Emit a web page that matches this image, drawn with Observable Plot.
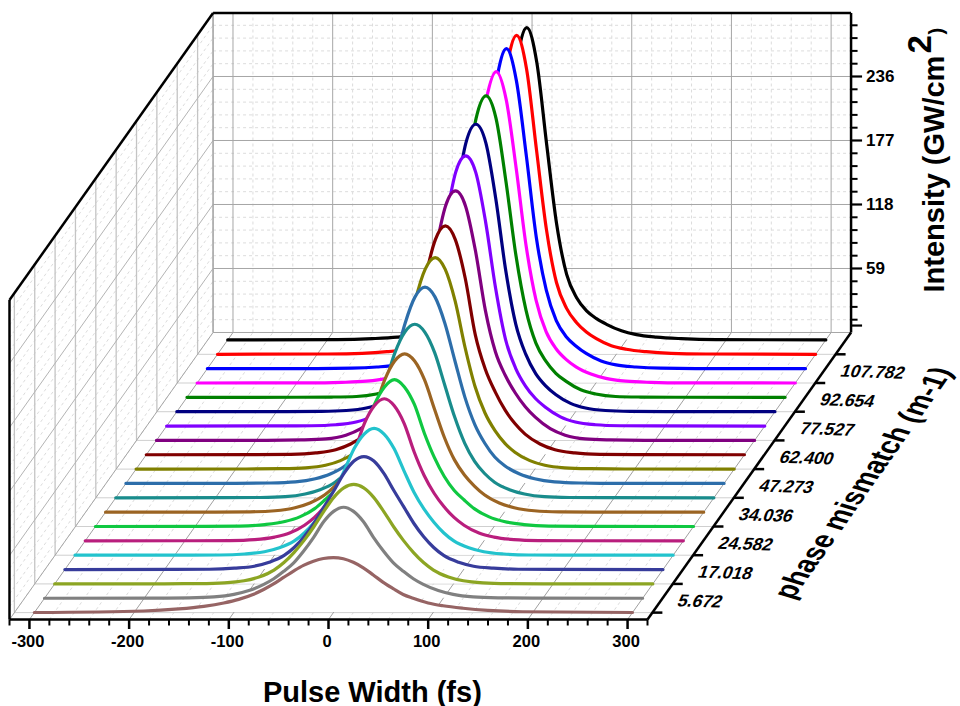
<!DOCTYPE html>
<html><head><meta charset="utf-8">
<style>html,body{margin:0;padding:0;background:#fff}svg{display:block}</style>
<script src="https://cdn.jsdelivr.net/npm/d3@7"></script>
<script src="https://cdn.jsdelivr.net/npm/@observablehq/plot@0.6"></script>
</head><body><div id="chart"></div>
<script>
const pulseFs=[-300,-190,-155,-130,-110,-95,-80,-70,-60,-50,-40,-30,-20,-10,0,10,20,30,40,50,60,70,80,95,110,130,155,190,300];
// intensity (GW/cm2) read per series, front to back
const s00=[0.1,1.5,3.4,5.8,8.9,12.2,17,21.3,26.4,32.4,38.3,43.6,47.4,49.9,50.7,49.7,46.4,41.3,34.7,27.9,22.1,16.7,13.2,8.9,6.3,4,2,0.8,0.1];
const s01=[0,0.1,0.4,1.3,3.6,7.1,12.8,18,24.8,32.7,43.6,56.2,70.5,80.1,83.9,80.1,70.5,56.2,43.6,32.7,24.8,18,12.8,7.1,3.6,1.3,0.4,0.1,0];
const s02=[0,0.1,0.3,1,2.9,6.4,12.8,19.7,28.9,39.9,52.7,66.9,79.8,88.5,91.7,88.5,79.8,66.9,52.7,39.9,28.9,19.7,12.8,6.4,2.9,1,0.3,0.1,0];
const s03=[0,0.1,0.3,1.3,3.1,6.7,13,20.3,30.2,42.7,57.8,72.9,88.6,100,104.2,100,88.6,72.9,57.8,42.7,30.2,20.3,13,6.7,3.1,1.3,0.3,0.1,0];
const s04=[0,0.1,0.2,1.1,3.2,6.8,13.2,20.5,30.4,42.7,58.1,77.8,98.3,111.7,117,111.7,98.3,77.8,58.1,42.7,30.4,20.5,13.2,6.8,3.2,1.1,0.2,0.1,0];
const s05=[0,0.1,0.3,1.2,3.5,7.2,14.4,21.6,31.4,43.9,60.3,81.9,108.1,124.5,131,124.5,108.1,81.9,60.3,43.9,31.4,21.6,14.4,7.2,3.5,1.2,0.3,0.1,0];
const s06=[0,0.1,0.4,1.8,4.6,8.9,16.5,24.4,33.2,46.1,63.7,86,112.5,128.7,135.5,128.7,112.5,86,63.7,46.1,33.2,24.4,16.5,8.9,4.6,1.8,0.4,0.1,0];
const s07=[0,0.1,0.3,1.3,4.1,8.5,16.1,24.1,34.3,48.2,68.6,94.9,121.9,139.4,146,139.4,121.9,94.9,68.6,48.2,34.3,24.1,16.1,8.5,4.1,1.3,0.3,0.1,0];
const s08=[0,0.1,0.3,1,3.5,7.5,14.4,22.4,33.6,50.4,74.4,104,133.6,152.8,160,152.8,133.6,104,74.4,50.4,33.6,22.4,14.4,7.5,3.5,1,0.3,0.1,0];
const s09=[0,0.1,0.4,1.4,4.3,8.7,16.3,24.4,37.1,54.3,79.6,113.1,147.5,172,181,172,147.5,113.1,79.6,54.3,37.1,24.4,16.3,8.7,4.3,1.4,0.4,0.1,0];
const s10=[0,0.1,0.4,1.2,3.5,7.8,15.6,23.8,35.5,51.7,76.1,112.1,155,184.3,195,184.3,155,112.1,76.1,51.7,35.5,23.8,15.6,7.8,3.5,1.2,0.4,0.1,0];
const s11=[0,0.1,0.4,1.7,4.6,9.9,19,28.5,41.1,58,79.1,110.8,162.5,198.3,211,198.3,162.5,110.8,79.1,58,41.1,28.5,19,9.9,4.6,1.7,0.4,0.1,0];
const s12=[0,0.1,0.5,1.4,4.8,10.8,21.4,31,43.7,59.8,81.7,119.6,174.8,216.2,230,216.2,174.8,119.6,81.7,59.8,43.7,31,21.4,10.8,4.8,1.4,0.5,0.1,0];
const s13=[0,0.1,0.3,1.2,3.7,8.5,17.4,25.4,36.9,53.5,79.7,127,188,234.1,249,234.1,188,127,79.7,53.5,36.9,25.4,17.4,8.5,3.7,1.2,0.3,0.1,0];
const s14=[0,0.1,0.3,1.1,3.4,7.7,15.9,23.9,35.2,53,80.8,129.9,196.1,247.8,265,247.8,196.1,129.9,80.8,53,35.2,23.9,15.9,7.7,3.4,1.1,0.3,0.1,0];
const s15=[0,0.1,0.3,0.8,3.1,7,15,22.2,33.4,50,80.6,130.7,198.8,257.2,278,257.2,198.8,130.7,80.6,50,33.4,22.2,15,7,3.1,0.8,0.3,0.1,0];
const s16=[0,0.1,0.6,1.7,4.3,8.3,14.9,21.8,31.6,47.4,76.1,126.3,198,261.2,287,261.2,198,126.3,76.1,47.4,31.6,21.8,14.9,8.3,4.3,1.7,0.6,0.1,0];
const s17=[0,0.1,0.4,1.5,3.5,7.1,14,20.7,29.5,44.3,72.3,121,196.2,265.5,295,265.5,196.2,121,72.3,44.3,29.5,20.7,14,7.1,3.5,1.5,0.4,0.1,0];
const s18=[0,0.3,0.9,2.4,4.7,7.9,14.4,20.6,29.4,42.6,66.2,114.7,188.2,263.1,294,263.1,188.2,114.7,66.2,42.6,29.4,20.6,14.4,7.9,4.7,2.4,0.9,0.3,0];
const s19=[0,0.3,1.2,2.6,4.9,8.4,14.4,19.6,26.8,38.9,60.5,106.6,180,256.3,288,256.3,180,106.6,60.5,38.9,26.8,19.6,14.4,8.4,4.9,2.6,1.2,0.3,0];
const seriesValues=[s00,s01,s02,s03,s04,s05,s06,s07,s08,s09,s10,s11,s12,s13,s14,s15,s16,s17,s18,s19];
const seriesColors=["#966464","#808080","#8ca523","#373c9b","#23c3cd","#b91e7d","#0fc841","#9b6423","#198c8c","#2d6eaa","#808000","#800000","#800080","#8000ff","#000080","#008000","#ff00ff","#0000ff","#ff0000","#000000"];
const xMajor=[-300,-200,-100,0,100,200,300];
const xMinor=[-320,-280,-260,-240,-220,-180,-160,-140,-120,-80,-60,-40,-20,20,40,60,80,120,140,160,180,220,240,260,280,320];
const xLabels=["-300","-200","-100","0","100","200","300"];
const zMajor=[59,118,177,236];
const zMinor=[11.8,23.6,35.4,47.2,70.8,82.6,94.4,106.2,129.8,141.6,153.4,165.2,188.8,200.6,212.4,224.2,247.8,259.6,271.4,283.2];
const zLow=6.4, zTop=294.5;
const depthTickSeries=[0,2,4,6,8,10,12,14,16,18];
const depthLabels=["5.672","17.018","24.582","34.036","47.273","62.400","77.527","92.654","107.782"];

// oblique projection of (pulse, series depth, intensity) on the library's x and y scales
const DX=204.2, DZ=264.6, T0=0.024, TS=0.05;
const tOf=i=>T0+TS*i;
const PX=(x,t)=>x+DX*t, PY=(z,t)=>z+DZ*t;
const seg=(x1,t1,z1,x2,t2,z2)=>({a:PX(x1,t1),b:PY(z1,t1),c:PX(x2,t2),d:PY(z2,t2)});
const linkOf=(rows,o)=>Plot.link(rows,{x1:"a",y1:"b",x2:"c",y2:"d",...o});
const xpu=1/0.997, zpu=1/1.0847; // one pixel in data units

const gMaj="#a6a6a6", gMin="#dcdcdc", dash="3,3";
const marks=[];
// back wall
marks.push(linkOf(xMinor.map(x=>seg(x,1,0,x,1,zTop)),{stroke:gMin,strokeDasharray:dash}));
marks.push(linkOf(zMinor.map(z=>seg(-320,1,z,320,1,z)),{stroke:gMin,strokeDasharray:dash}));
marks.push(linkOf(xMajor.map(x=>seg(x,1,0,x,1,zTop)),{stroke:gMaj}));
marks.push(linkOf(zMajor.map(z=>seg(-320,1,z,320,1,z)),{stroke:gMaj}));
// side wall
marks.push(linkOf(zMinor.map(z=>seg(-320,0,z,-320,1,z)),{stroke:gMin,strokeDasharray:dash}));
marks.push(linkOf(depthTickSeries.map(i=>seg(-320,tOf(i),0,-320,tOf(i),zTop)),{stroke:"#c4c4c4",strokeWidth:1.3}));
marks.push(linkOf(zMajor.map(z=>seg(-320,0,z,-320,1,z)),{stroke:"#b4b4b4"}));
marks.push(linkOf([seg(-320,1,0,-320,1,zTop)],{stroke:gMaj,strokeWidth:1.6}));
// floor
marks.push(linkOf(xMinor.map(x=>seg(x,0,0,x,1,0)),{stroke:gMin,strokeDasharray:dash}));
marks.push(linkOf(depthTickSeries.map(i=>seg(-320,tOf(i),0,320,tOf(i),0)),{stroke:"#cfcfcf"}));
marks.push(linkOf(xMajor.map(x=>seg(x,0,0,x,1,0)),{stroke:"#a0a0a0"}));
marks.push(linkOf([seg(-320,0,0,-320,1,0),seg(-320,1,0,320,1,0)],{stroke:gMaj}));

// series, back to front
for(let i=seriesValues.length-1;i>=0;i--){
  const t=tOf(i);
  const rows=pulseFs.map((x,j)=>({x:PX(x,t),y0:PY(0,t),y:PY(seriesValues[i][j],t)}));
  marks.push(Plot.areaY(rows,{x:"x",y1:"y0",y2:"y",fill:"#fff",curve:"monotone-x"}));
  marks.push(Plot.line(rows,{x:"x",y:"y",stroke:seriesColors[i],strokeWidth:3.2,curve:"monotone-x"}));
}

// frame and axes
marks.push(linkOf([
  seg(-320,0,0,320,0,0),seg(320,0,0,320,1,0),seg(320,1,0,320,1,zTop),
  seg(-320,1,zTop,320,1,zTop),seg(-320,1,zTop,-320,0,zTop),seg(-320,0,zTop,-320,0,0)
],{stroke:"#000",strokeWidth:2.5}));
marks.push(linkOf(xMajor.map(x=>seg(x,0,0,x,0,-9.5*zpu)),{stroke:"#000",strokeWidth:2.5}));
marks.push(linkOf(xMinor.map(x=>seg(x,0,0,x,0,-6*zpu)),{stroke:"#000",strokeWidth:2}));
marks.push(linkOf(zMajor.concat([zLow]).map(z=>seg(320,1,z,320+11*xpu,1,z)),{stroke:"#000",strokeWidth:2.2}));
marks.push(linkOf(zMinor.map(z=>seg(320,1,z,320+6.5*xpu,1,z)),{stroke:"#000",strokeWidth:2}));
marks.push(linkOf(depthTickSeries.map(i=>seg(320,tOf(i),0,320+10*xpu,tOf(i),0)),{stroke:"#000",strokeWidth:2.5}));

const font={fontFamily:"Liberation Sans, Arial, sans-serif",fontWeight:"bold",fill:"#000"};
marks.push(Plot.text(xMajor,{x:d=>d-1.5,y:()=>-22*zpu,text:(d,i)=>xLabels[i],fontSize:16.5,textAnchor:"middle",...font}));
marks.push(Plot.text(zMajor,{x:()=>PX(320,1)+15*xpu,y:z=>PY(z,1),text:z=>String(z),fontSize:17,textAnchor:"start",...font}));
marks.push(Plot.text(depthLabels,{x:(d,i)=>PX(320,tOf(depthTickSeries[i]))+26*xpu,y:(d,i)=>PY(0,tOf(depthTickSeries[i]))+12*zpu,text:d=>d,fontSize:17.5,textAnchor:"start",...font}));
marks.push(Plot.text(["Pulse Width (fs)"],{x:()=>44,y:()=>-73*zpu,text:d=>d,fontSize:29,textAnchor:"middle",...font}));
marks.push(Plot.text(["Intensity (GW/cm"],{x:()=>PX(320,1)+93*xpu,y:()=>PY(0,1)+40*zpu,text:d=>d,rotate:-90,fontSize:29,textAnchor:"start",lineAnchor:"bottom",...font}));
marks.push(Plot.text(["2"],{x:()=>PX(320,1)+80*xpu,y:()=>PY(0,1)+279*zpu,text:d=>d,rotate:-90,fontSize:33,textAnchor:"start",lineAnchor:"bottom",...font}));
marks.push(Plot.text([")"],{x:()=>PX(320,1)+92*xpu,y:()=>PY(0,1)+298*zpu,text:d=>d,rotate:-90,fontSize:20,textAnchor:"start",lineAnchor:"bottom",...font}));
marks.push(Plot.text(["phase mismatch (m-1)"],{x:()=>PX(320,0)+145*xpu,y:()=>19*zpu,text:d=>d,fontSize:26.5,textAnchor:"start",lineAnchor:"bottom",...font}));

const plot=Plot.plot({width:960,height:706,marginTop:0,marginRight:0,marginBottom:0,marginLeft:0,
  style:{background:"#fff",overflow:"visible"},
  x:{type:"linear",domain:[-320,320],range:[9,647],axis:null},
  y:{type:"linear",domain:[0,100],range:[619,619-108.47],axis:null},
  marks});
document.getElementById("chart").append(plot);
// Origin draws the depth-axis texts sheared along the floor
d3.select(plot).selectAll("text").each(function(){
  const s=this.textContent, tr=this.getAttribute("transform")||"";
  if(depthLabels.includes(s)) this.setAttribute("transform",tr+" rotate(2) skewX(-18)");
  if(s==="phase mismatch (m-1)") this.setAttribute("transform",tr+" matrix(.574,-.819,1.12,.344,0,0)");
});
</script></body></html>
